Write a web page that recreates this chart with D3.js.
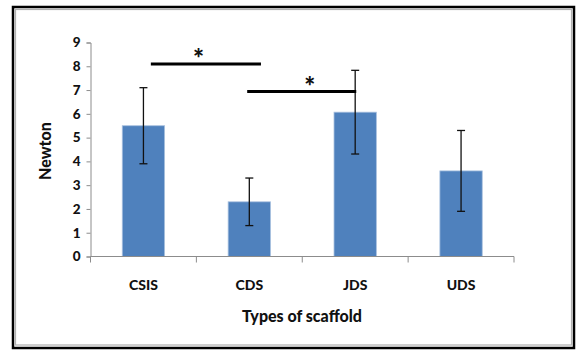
<!DOCTYPE html>
<html>
<head>
<meta charset="utf-8">
<script src="https://cdn.jsdelivr.net/npm/d3@7"></script>
<style>
  html, body { margin: 0; padding: 0; background: #fff; }
  svg { display: block; }
  text { font-family: Lato, "Open Sans", sans-serif; font-weight: 900; fill: #111; }
</style>
</head>
<body>
<svg id="chart" width="576" height="354"></svg>
<script>
// Scaffold strength by type
const categories = ["CSIS", "CDS", "JDS", "UDS"];
const means = [5.5, 2.3, 6.07, 3.6];
const errors = [1.6, 1.0, 1.76, 1.7];
const yTicks = [0, 1, 2, 3, 4, 5, 6, 7, 8, 9];
// Significance bars: start/end on the category axis (in category units), level in Newton
const sigFrom = [0.57, 1.48];
const sigTo = [1.61, 2.51];
const sigLevel = [8.1, 6.94];
const sigStar = [1.02, 2.07];

const svg = d3.select("#chart");

// frame
svg.append("rect").attr("x", 13).attr("y", 7).attr("width", 561).attr("height", 341)
  .attr("fill", "none").attr("stroke", "#000").attr("stroke-width", 2.5);
svg.append("rect").attr("x", 15.5).attr("y", 9.5).attr("width", 556).attr("height", 335.5)
  .attr("fill", "none").attr("stroke", "#b0b0b0").attr("stroke-width", 1.2);

const plotLeft = 90.5, plotRight = 514, plotTop = 42.5, plotBottom = 256.5;

const x = d3.scaleBand().domain(categories).range([plotLeft, plotRight])
  .paddingInner(0.6).paddingOuter(0.3);
const xc = d3.scaleLinear().domain([0, categories.length]).range([plotLeft, plotRight]);
const y = d3.scaleLinear().domain([0, 9]).range([plotBottom, plotTop]);

// bars
svg.append("g").selectAll("rect").data(categories).join("rect")
  .attr("x", d => x(d))
  .attr("y", (d, i) => y(means[i]))
  .attr("width", x.bandwidth())
  .attr("height", (d, i) => plotBottom - y(means[i]))
  .attr("fill", "#4f81bd")
  .attr("stroke", "#a9c1df").attr("stroke-width", 0.8);

// y axis
const yAxis = svg.append("g").attr("transform", `translate(${plotLeft},0)`)
  .call(d3.axisLeft(y).tickValues(yTicks).tickSize(4).tickPadding(6).tickFormat(d3.format("d")));
yAxis.select(".domain").attr("stroke", "#8c8c8c");
yAxis.selectAll(".tick line").attr("stroke", "#8c8c8c");
yAxis.selectAll("text").attr("font-size", 13.5).attr("fill", "#111");

// x axis with boundary ticks
const xAxisG = svg.append("g").attr("transform", `translate(0,${plotBottom})`);
xAxisG.append("line").attr("x1", plotLeft).attr("x2", plotRight).attr("stroke", "#8c8c8c");
xAxisG.selectAll("line.t").data(d3.range(categories.length + 1)).join("line")
  .attr("class", "t")
  .attr("x1", d => xc(d)).attr("x2", d => xc(d))
  .attr("y1", 0).attr("y2", 6).attr("stroke", "#8c8c8c");
xAxisG.selectAll("text").data(categories).join("text")
  .attr("x", d => x(d) + x.bandwidth() / 2)
  .attr("y", 33.5)
  .attr("text-anchor", "middle")
  .attr("font-size", 14)
  .text(d => d);

// error bars
const eb = svg.append("g").attr("stroke", "#111").attr("stroke-width", 1.3);
categories.forEach((c, i) => {
  const cx = x(c) + x.bandwidth() / 2;
  const hi = y(means[i] + errors[i]), lo = y(means[i] - errors[i]);
  eb.append("line").attr("x1", cx).attr("x2", cx).attr("y1", hi).attr("y2", lo);
  eb.append("line").attr("x1", cx - 4).attr("x2", cx + 4).attr("y1", hi).attr("y2", hi);
  eb.append("line").attr("x1", cx - 4).attr("x2", cx + 4).attr("y1", lo).attr("y2", lo);
});

// significance markers
sigLevel.forEach((lv, i) => {
  svg.append("line")
    .attr("x1", xc(sigFrom[i])).attr("x2", xc(sigTo[i]))
    .attr("y1", y(lv)).attr("y2", y(lv))
    .attr("stroke", "#000").attr("stroke-width", 3);
  svg.append("text")
    .attr("x", xc(sigStar[i])).attr("y", y(lv) + 4.5)
    .attr("text-anchor", "middle")
    .attr("font-size", 26)
    .text("*");
});

// axis titles
svg.append("text")
  .attr("transform", "translate(51,151) rotate(-90)")
  .attr("text-anchor", "middle")
  .attr("font-size", 16)
  .text("Newton");
svg.append("text")
  .attr("x", 302).attr("y", 321.5)
  .attr("text-anchor", "middle")
  .attr("font-size", 16)
  .text("Types of scaffold");
</script>
</body>
</html>
